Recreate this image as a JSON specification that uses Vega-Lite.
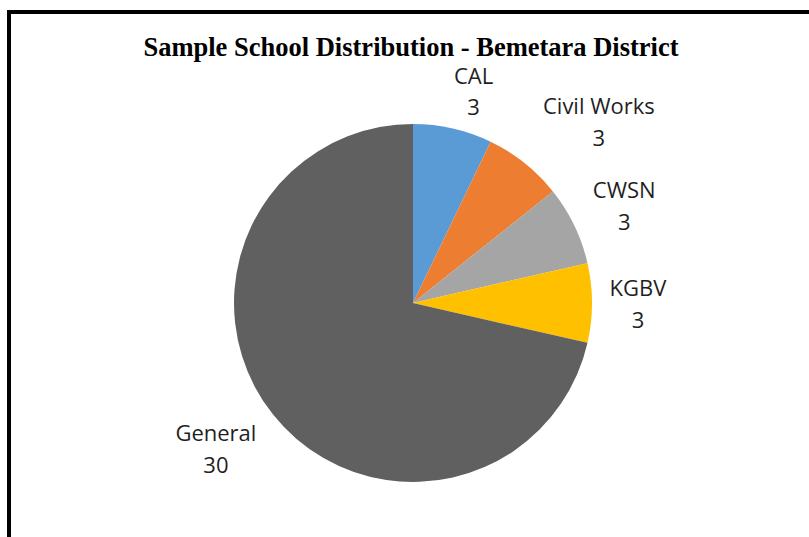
{
  "$schema": "https://vega.github.io/schema/vega-lite/v6.json",
  "autosize": {"type": "none"},
  "width": 808,
  "height": 582,
  "padding": {"left": 9, "top": 12, "right": -8, "bottom": -57},
  "background": "white",
  "view": {"stroke": "black", "strokeWidth": 4},
  "title": {
    "text": "Sample School Distribution - Bemetara District",
    "font": "Liberation Serif",
    "fontSize": 26.5,
    "fontWeight": "bold",
    "color": "black",
    "anchor": "middle",
    "baseline": "alphabetic",
    "offset": -70,
    "dx": -2
  },
  "data": {
    "values": [
      {"category": "CAL", "value": 3, "order": 1},
      {"category": "Civil Works", "value": 3, "order": 2},
      {"category": "CWSN", "value": 3, "order": 3},
      {"category": "KGBV", "value": 3, "order": 4},
      {"category": "General", "value": 30, "order": 5}
    ]
  },
  "transform": [
    {"calculate": "datum.category + '\\n' + datum.value", "as": "label"}
  ],
  "encoding": {
    "theta": {"field": "value", "type": "quantitative", "stack": true},
    "order": {"field": "order", "type": "quantitative"}
  },
  "layer": [
    {
      "mark": {"type": "arc", "outerRadius": 179},
      "encoding": {
        "color": {
          "field": "category",
          "type": "nominal",
          "scale": {
            "domain": ["CAL", "Civil Works", "CWSN", "KGBV", "General"],
            "range": ["#5B9BD5", "#ED7D31", "#A5A5A5", "#FFC000", "#606060"]
          },
          "legend": null
        }
      }
    },
    {
      "mark": {"type": "text", "radius": 218, "dx": 12, "dy": -13, "font": "Open Sans", "fontSize": 22, "lineHeight": 31, "lineBreak": "\n", "color": "#1f1f1f", "align": "center", "baseline": "middle"},
      "encoding": {"text": {"condition": {"test": "datum.category === 'CAL'", "field": "label"}, "value": ""}}
    },
    {
      "mark": {"type": "text", "radius": 250, "dx": 30, "dy": -1, "font": "Open Sans", "fontSize": 22, "lineHeight": 32, "lineBreak": "\n", "color": "#1f1f1f", "align": "center", "baseline": "middle"},
      "encoding": {"text": {"condition": {"test": "datum.category === 'Civil Works'", "field": "label"}, "value": ""}}
    },
    {
      "mark": {"type": "text", "radius": 230, "dx": 4, "dy": -12, "font": "Open Sans", "fontSize": 22, "lineHeight": 32, "lineBreak": "\n", "color": "#1f1f1f", "align": "center", "baseline": "middle"},
      "encoding": {"text": {"condition": {"test": "datum.category === 'CWSN'", "field": "label"}, "value": ""}}
    },
    {
      "mark": {"type": "text", "radius": 226, "dx": -1, "dy": -14, "font": "Open Sans", "fontSize": 22, "lineHeight": 32, "lineBreak": "\n", "color": "#1f1f1f", "align": "center", "baseline": "middle"},
      "encoding": {"text": {"condition": {"test": "datum.category === 'KGBV'", "field": "label"}, "value": ""}}
    },
    {
      "mark": {"type": "text", "radius": 247, "dx": -4, "dy": -23, "font": "Open Sans", "fontSize": 22, "lineHeight": 32, "lineBreak": "\n", "color": "#1f1f1f", "align": "center", "baseline": "middle"},
      "encoding": {"text": {"condition": {"test": "datum.category === 'General'", "field": "label"}, "value": ""}}
    }
  ]
}
